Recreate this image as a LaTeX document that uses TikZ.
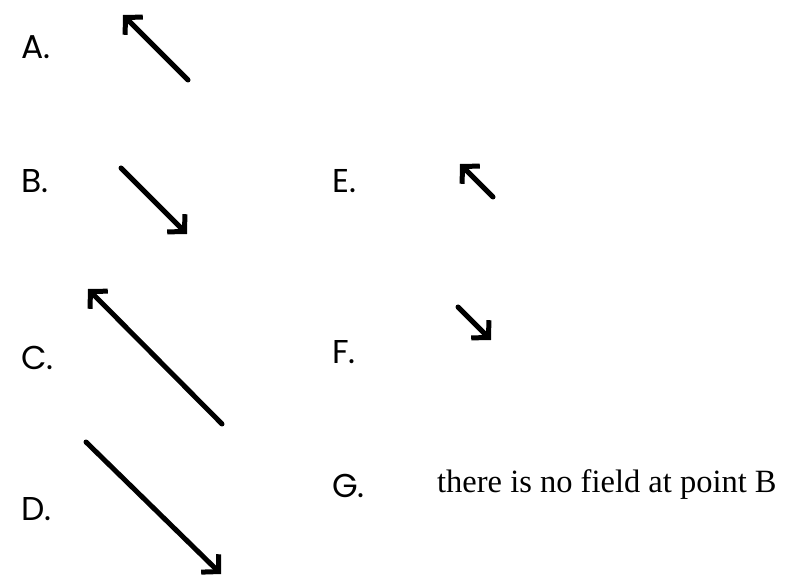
\documentclass[tikz,border=0pt]{standalone}
\usepackage{fontspec}
\setmainfont{Liberation Serif}
\newfontfamily\labelfont{Poppins}
\usetikzlibrary{arrows.meta}

\tikzset{
  choice/.style={anchor=west, inner sep=0pt, font=\labelfont\fontsize{33}{36}\selectfont},
  vec/.style={line width=5pt, line cap=round,
    -{Straight Barb[length=12pt,width=25pt,line width=5pt]}},
}

\begin{document}
\begin{tikzpicture}[x=1pt,y=-1pt]
    \useasboundingbox (0,0) rectangle (785,577);

    % Left column: answers A to D
    \node[choice] (la) at (21,47) {A.};
    \node[choice] (lb) at (21,181) {B.};
    \node[choice] (lc) at (21,358) {C.};
    \node[choice] (ld) at (21,509) {D.};

    \coordinate (a1) at (188,80);  \coordinate (a2) at (123,15);
    \coordinate (b1) at (121,168); \coordinate (b2) at (187,234);
    \coordinate (c1) at (222,424); \coordinate (c2) at (88,289);
    \coordinate (d1) at (86,442);  \coordinate (d2) at (221,574);

    \draw[vec] (a1) -- (a2);
    \draw[vec] (b1) -- (b2);
    \draw[vec] (c1) -- (c2);
    \draw[vec] (d1) -- (d2);

    % Right column: answers E to G
    \node[choice] (le) at (332,181) {E.};
    \node[choice] (lf) at (332,352) {F.};
    \node[choice] (lg) at (332,486) {G.};

    \coordinate (e1) at (493,197); \coordinate (e2) at (460,164);
    \coordinate (f1) at (458,307); \coordinate (f2) at (491,340);

    \draw[vec] (e1) -- (e2);
    \draw[vec] (f1) -- (f2);

    \node[anchor=west, inner sep=0pt, font=\fontsize{32.5}{36}\selectfont] (gtext) at (437,485)
      {there is no field at point B};
\end{tikzpicture}
\end{document}
